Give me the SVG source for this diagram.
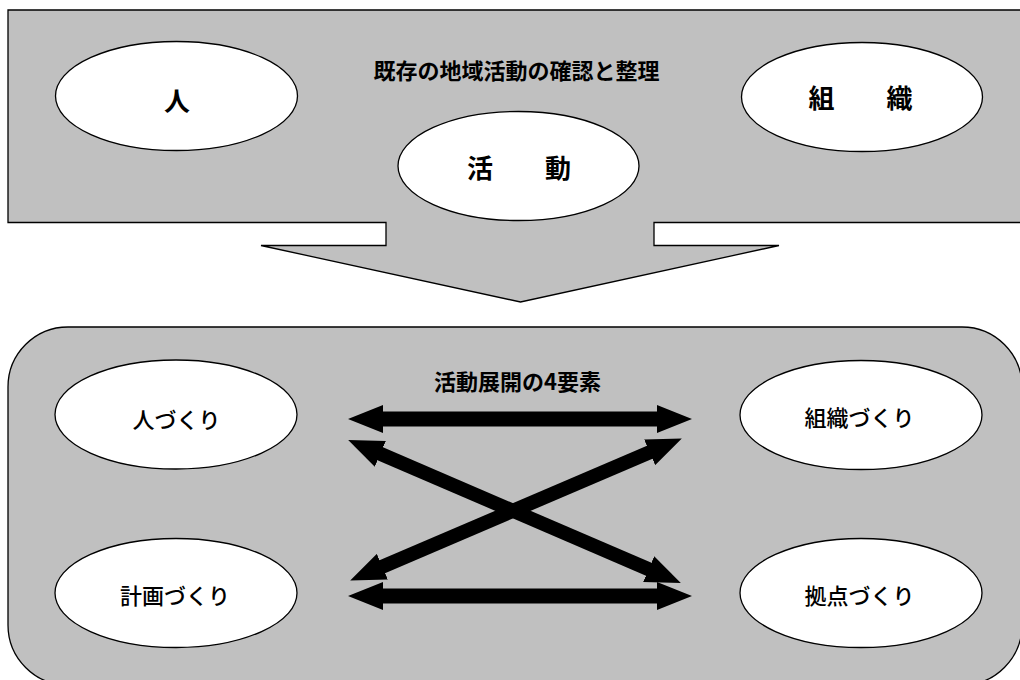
<svg xmlns="http://www.w3.org/2000/svg" width="1020" height="680" viewBox="0 0 1020 680">
  <style>
    .panel { fill: #c0c0c0; stroke: #000; stroke-width: 1.3; }
    .node { fill: #fff; stroke: #000; stroke-width: 1.3; }
    .t { font-family: "Noto Sans CJK JP", "Liberation Sans", sans-serif; fill: #000; text-anchor: middle; dominant-baseline: central; }
    .big { font-size: 26px; font-weight: bold; }
    .head { font-size: 22px; font-weight: bold; }
    .lbl { font-size: 22px; font-weight: 500; }
    .arr { stroke: #000; stroke-width: 15; fill: none; marker-start: url(#ah); marker-end: url(#ah); }
  </style>
  <defs>
    <marker id="ah" markerUnits="userSpaceOnUse" markerWidth="36" markerHeight="28" viewBox="0 0 36 28" refX="2" refY="14" orient="auto-start-reverse">
      <path d="M0,0 L35,14 L0,28 z" fill="#000"/>
    </marker>
  </defs>
  <rect width="1020" height="680" fill="#fff"/>

  <g id="top-panel">
    <polygon class="panel" points="8,10 1030,10 1030,222.5 654,222.5 654,245.5 779,245.5 520.5,302 261,245.5 386,245.5 386,222.5 8,222.5"/>
    <text class="t head" x="516.5" y="68.5">既存の地域活動の確認と整理</text>
  </g>
  <g id="node-hito">
    <ellipse class="node" cx="176.5" cy="96" rx="121" ry="54.5"/>
    <text class="t big" x="177" y="99">人</text>
  </g>
  <g id="node-katsudo">
    <ellipse class="node" cx="518.5" cy="166" rx="120.5" ry="54.5"/>
    <text class="t big" x="519" y="166">活　　動</text>
  </g>
  <g id="node-soshiki">
    <ellipse class="node" cx="862" cy="97" rx="120.5" ry="54.5"/>
    <text class="t big" x="860.5" y="96">組　　織</text>
  </g>

  <g id="bottom-panel">
    <rect class="panel" x="8" y="327" width="1014" height="358" rx="60" ry="60"/>
    <text class="t head" x="517.5" y="380">活動展開の4要素</text>
  </g>
  <g id="node-hitozukuri">
    <ellipse class="node" cx="176" cy="414.5" rx="121" ry="54.5"/>
    <text class="t lbl" x="176.5" y="418">人づくり</text>
  </g>
  <g id="node-soshikizukuri">
    <ellipse class="node" cx="861" cy="415" rx="121" ry="54.5"/>
    <text class="t lbl" x="859.5" y="416">組織づくり</text>
  </g>
  <g id="node-keikakuzukuri">
    <ellipse class="node" cx="176" cy="593" rx="121" ry="54.5"/>
    <text class="t lbl" x="175" y="593.5">計画づくり</text>
  </g>
  <g id="node-kyotenzukuri">
    <ellipse class="node" cx="861" cy="593" rx="121" ry="54.5"/>
    <text class="t lbl" x="859.5" y="594">拠点づくり</text>
  </g>

  <g id="connectors">
    <line class="arr" x1="381" y1="419" x2="659" y2="419"/>
    <line class="arr" x1="381" y1="596" x2="659" y2="596"/>
    <line class="arr" x1="378.5" y1="453" x2="650.5" y2="570" style="stroke-width:14"/>
    <line class="arr" x1="380.5" y1="567.5" x2="651.5" y2="451.5" style="stroke-width:14"/>
  </g>
</svg>
